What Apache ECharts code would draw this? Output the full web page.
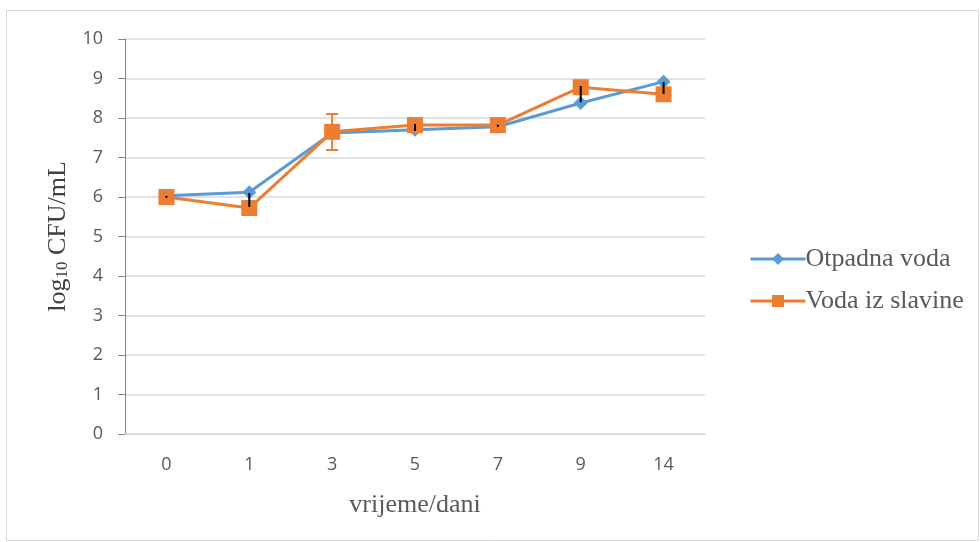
<!DOCTYPE html>
<html>
<head>
<meta charset="utf-8">
<script src="https://cdn.jsdelivr.net/npm/echarts@6/dist/echarts.min.js"></script>
<style>
  html, body { margin: 0; padding: 0; background: #fff; }
  #chart { width: 980px; height: 542px; }
</style>
</head>
<body>
<div id="chart"></div>
<script>
// Dani mjerenja
const days = ['0', '1', '3', '5', '7', '9', '14'];
const yTicks = [0, 10, 1];

// log10 CFU/mL
const otpadnaVoda = [6.03, 6.12, 7.62, 7.70, 7.78, 8.38, 8.92];
const vodaIzSlavine = [6.00, 5.72, 7.65, 7.82, 7.82, 8.78, 8.60];

// Error bars (low, high)
const orangeErrLow = [null, null, 7.19, null, null, null, null];
const orangeErrHigh = [null, null, 8.10, null, null, null, null];
const blackErrLow = [5.98, 5.75, null, 7.67, 7.78, 8.40, 8.61];
const blackErrHigh = [6.03, 6.10, null, 7.85, 7.83, 8.81, 8.91];

const BLUE = '#5B9BD5';
const ORANGE = '#ED7D31';

function errSeries(low, high, color, cap) {
  const data = days.map((d, i) => [i, low[i], high[i]]).filter(r => r[1] != null);
  return {
    type: 'custom',
    z: 10,
    silent: true,
    data: data,
    renderItem: (params, api) => {
      const x = api.value(0);
      const lo = api.coord([x, api.value(1)]);
      const hi = api.coord([x, api.value(2)]);
      const style = { stroke: color, lineWidth: 2 };
      const children = [{ type: 'line', shape: { x1: lo[0], y1: lo[1], x2: hi[0], y2: hi[1] }, style }];
      if (cap) {
        children.push({ type: 'line', shape: { x1: lo[0] - cap, y1: lo[1], x2: lo[0] + cap, y2: lo[1] }, style });
        children.push({ type: 'line', shape: { x1: hi[0] - cap, y1: hi[1], x2: hi[0] + cap, y2: hi[1] }, style });
      }
      return { type: 'group', children };
    }
  };
}

const chart = echarts.init(document.getElementById('chart'));
chart.setOption({
  backgroundColor: '#fff',
  animation: false,
  graphic: [{
    type: 'rect',
    shape: { x: 6.5, y: 10.5, width: 972, height: 530 },
    style: { fill: 'none', stroke: '#d9d9d9', lineWidth: 1 },
    silent: true
  }],
  grid: { left: 125, right: 275, top: 39, bottom: 108 },
  legend: {
    orient: 'vertical',
    left: 744,
    top: 241,
    itemWidth: 55,
    itemHeight: 15,
    itemGap: 16,
    lineStyle: { width: 3 },
    textStyle: { fontFamily: 'Liberation Serif', fontSize: 26, color: '#595959', padding: [0, 0, 0, -5] },
    data: ['Otpadna voda', 'Voda iz slavine']
  },
  xAxis: {
    type: 'category',
    data: days,
    name: 'vrijeme/dani',
    nameLocation: 'middle',
    nameGap: 58,
    nameTextStyle: { fontFamily: 'Liberation Serif', fontSize: 26, color: '#595959' },
    axisLine: { lineStyle: { color: '#d9d9d9', width: 1.5 } },
    axisTick: { show: false },
    axisLabel: { fontFamily: 'Open Sans', fontSize: 18, color: '#595959', margin: 22 }
  },
  yAxis: {
    type: 'value',
    min: yTicks[0],
    max: yTicks[1],
    interval: yTicks[2],
    name: '{a|log}{s|10}{a| CFU/mL}',
    nameLocation: 'middle',
    nameGap: 53,
    nameTextStyle: {
      rich: {
        a: { fontFamily: 'Liberation Serif', fontSize: 26, color: '#404040' },
        s: { fontFamily: 'Liberation Serif', fontSize: 17, color: '#404040', verticalAlign: 'bottom', padding: [10, 0, 0, 0] }
      }
    },
    axisLine: { show: true, lineStyle: { color: '#868686', width: 1 } },
    axisTick: { show: true, length: 7, lineStyle: { color: '#868686' } },
    splitLine: { lineStyle: { color: '#d9d9d9', width: 1.5 } },
    axisLabel: { fontFamily: 'Open Sans', fontSize: 18, color: '#595959', margin: 22 }
  },
  series: [
    {
      name: 'Otpadna voda',
      type: 'line',
      data: otpadnaVoda,
      symbol: 'diamond',
      symbolSize: 14,
      lineStyle: { color: BLUE, width: 3 },
      itemStyle: { color: BLUE },
      z: 3
    },
    {
      name: 'Voda iz slavine',
      type: 'line',
      data: vodaIzSlavine,
      symbol: 'rect',
      symbolSize: 16,
      lineStyle: { color: ORANGE, width: 3 },
      itemStyle: { color: ORANGE },
      z: 4
    },
    errSeries(orangeErrLow, orangeErrHigh, ORANGE, 6),
    errSeries(blackErrLow, blackErrHigh, '#000', 0)
  ]
});
</script>
</body>
</html>
